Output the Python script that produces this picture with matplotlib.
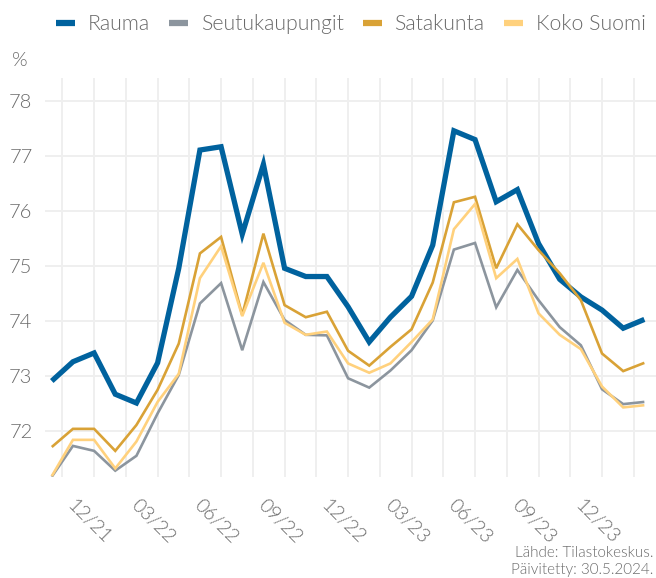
import matplotlib
matplotlib.use("Agg")
import matplotlib.pyplot as plt
import matplotlib.transforms as mtransforms
from matplotlib import font_manager
import numpy as np

plt.rcParams['font.family'] = ['Lato', 'DejaVu Sans']
_lato_weights = {f.weight for f in font_manager.fontManager.ttflist if f.name == 'Lato'}
plt.rcParams['font.weight'] = 300 if 300 in _lato_weights else 'normal'

# Monthly data 10/2021 - 02/2024
months = ["10/21", "11/21", "12/21", "01/22", "02/22", "03/22", "04/22", "05/22", "06/22",
          "07/22", "08/22", "09/22", "10/22", "11/22", "12/22", "01/23", "02/23", "03/23",
          "04/23", "05/23", "06/23", "07/23", "08/23", "09/23", "10/23", "11/23", "12/23",
          "01/24", "02/24"]

rauma = [72.91, 73.26, 73.42, 72.67, 72.51, 73.24, 74.96, 77.11, 77.17, 75.58, 76.85, 74.96,
         74.81, 74.81, 74.26, 73.62, 74.07, 74.45, 75.38, 77.46, 77.30, 76.17, 76.39, 75.41,
         74.76, 74.44, 74.20, 73.87, 74.03]
seutukaupungit = [71.17, 71.73, 71.64, 71.28, 71.55, 72.32, 73.02, 74.32, 74.69, 73.47, 74.71,
                  74.02, 73.75, 73.74, 72.96, 72.79, 73.10, 73.47, 74.01, 75.30, 75.42, 74.25,
                  74.93, 74.38, 73.89, 73.56, 72.76, 72.49, 72.53]
satakunta = [71.71, 72.04, 72.04, 71.64, 72.11, 72.75, 73.59, 75.23, 75.53, 74.11, 75.59, 74.29,
             74.07, 74.17, 73.46, 73.19, 73.53, 73.85, 74.70, 76.16, 76.26, 74.96, 75.76, 75.29,
             74.87, 74.38, 73.41, 73.09, 73.24]
koko_suomi = [71.18, 71.84, 71.84, 71.32, 71.81, 72.53, 73.04, 74.78, 75.36, 74.09, 75.06, 73.97,
              73.75, 73.81, 73.23, 73.06, 73.23, 73.62, 74.03, 75.67, 76.13, 74.78, 75.13, 74.14,
              73.75, 73.49, 72.81, 72.43, 72.47]

series_names = ["Rauma", "Seutukaupungit", "Satakunta", "Koko Suomi"]
series_values = [rauma, seutukaupungit, satakunta, koko_suomi]
colors = ["#00629e", "#8c959e", "#d9a236", "#ffd17d"]
widths = [3.8, 1.9, 1.9, 1.9]

tick_labels = ["12/21", "03/22", "06/22", "09/22", "12/22", "03/23", "06/23", "09/23", "12/23"]
y_ticks = [72, 73, 74, 75, 76, 77, 78]

text_color = "#6a6a6a"
grid_color = "#efefef"

fig = plt.figure(figsize=(6.56, 5.78), dpi=100)
ax = fig.add_axes([45/656, 1 - 476.7/578, 1 - 45/656, (476.7 - 78)/578])

x = np.arange(len(months))
for name, vals, c, lw in zip(series_names, series_values, colors, widths):
    ax.plot(x, vals, color=c, lw=lw, label=name, solid_joinstyle='miter',
            solid_capstyle='butt', zorder=3)

ax.set_xlim(-0.32, 28.55)
ax.set_ylim(71.17, 78.42)

tick_pos = [months.index(t) for t in tick_labels]
ax.set_xticks(tick_pos)
ax.set_xticklabels(tick_labels, rotation=-45, ha='center', va='top',
                   fontsize=14, color=text_color)
minor_pos = [p - 1.5 for p in tick_pos] + [tick_pos[-1] + 1.5]
ax.set_xticks(minor_pos, minor=True)
ax.set_yticks(y_ticks)
ax.set_yticklabels([str(v) for v in y_ticks], fontsize=14.5, color=text_color)

ax.tick_params(axis='both', which='both', length=0)
ax.tick_params(axis='x', pad=14)
ax.tick_params(axis='y', pad=9)

offset = mtransforms.ScaledTranslation(-5/100, 0, fig.dpi_scale_trans)
for lab in ax.get_xticklabels():
    lab.set_transform(lab.get_transform() + offset)

ax.grid(True, which='both', axis='x', color=grid_color, lw=1.4, zorder=0)
ax.grid(True, which='major', axis='y', color=grid_color, lw=1.4, zorder=0)
for s in ax.spines.values():
    s.set_visible(False)

fig.text(12/656, 1 - 60/578, "%", fontsize=14.5, color=text_color, ha='left', va='center')

leg = fig.legend(loc='upper center', bbox_to_anchor=((45 + 656) / 2 / 656, 1 + 5/578),
                 ncol=4, frameon=False, fontsize=15.3, handlelength=0.9,
                 handletextpad=0.6, columnspacing=0.9, labelcolor=text_color)
for h in leg.get_lines():
    h.set_linewidth(4.5)
    h.set_solid_capstyle('butt')

fig.text(653/656, 1 - 553/578, "Lähde: Tilastokeskus.", fontsize=11, color=text_color,
         ha='right', va='center')
fig.text(653/656, 1 - 570/578, "Päivitetty: 30.5.2024.", fontsize=11, color=text_color,
         ha='right', va='center')

fig.savefig("out.png", dpi=100)
